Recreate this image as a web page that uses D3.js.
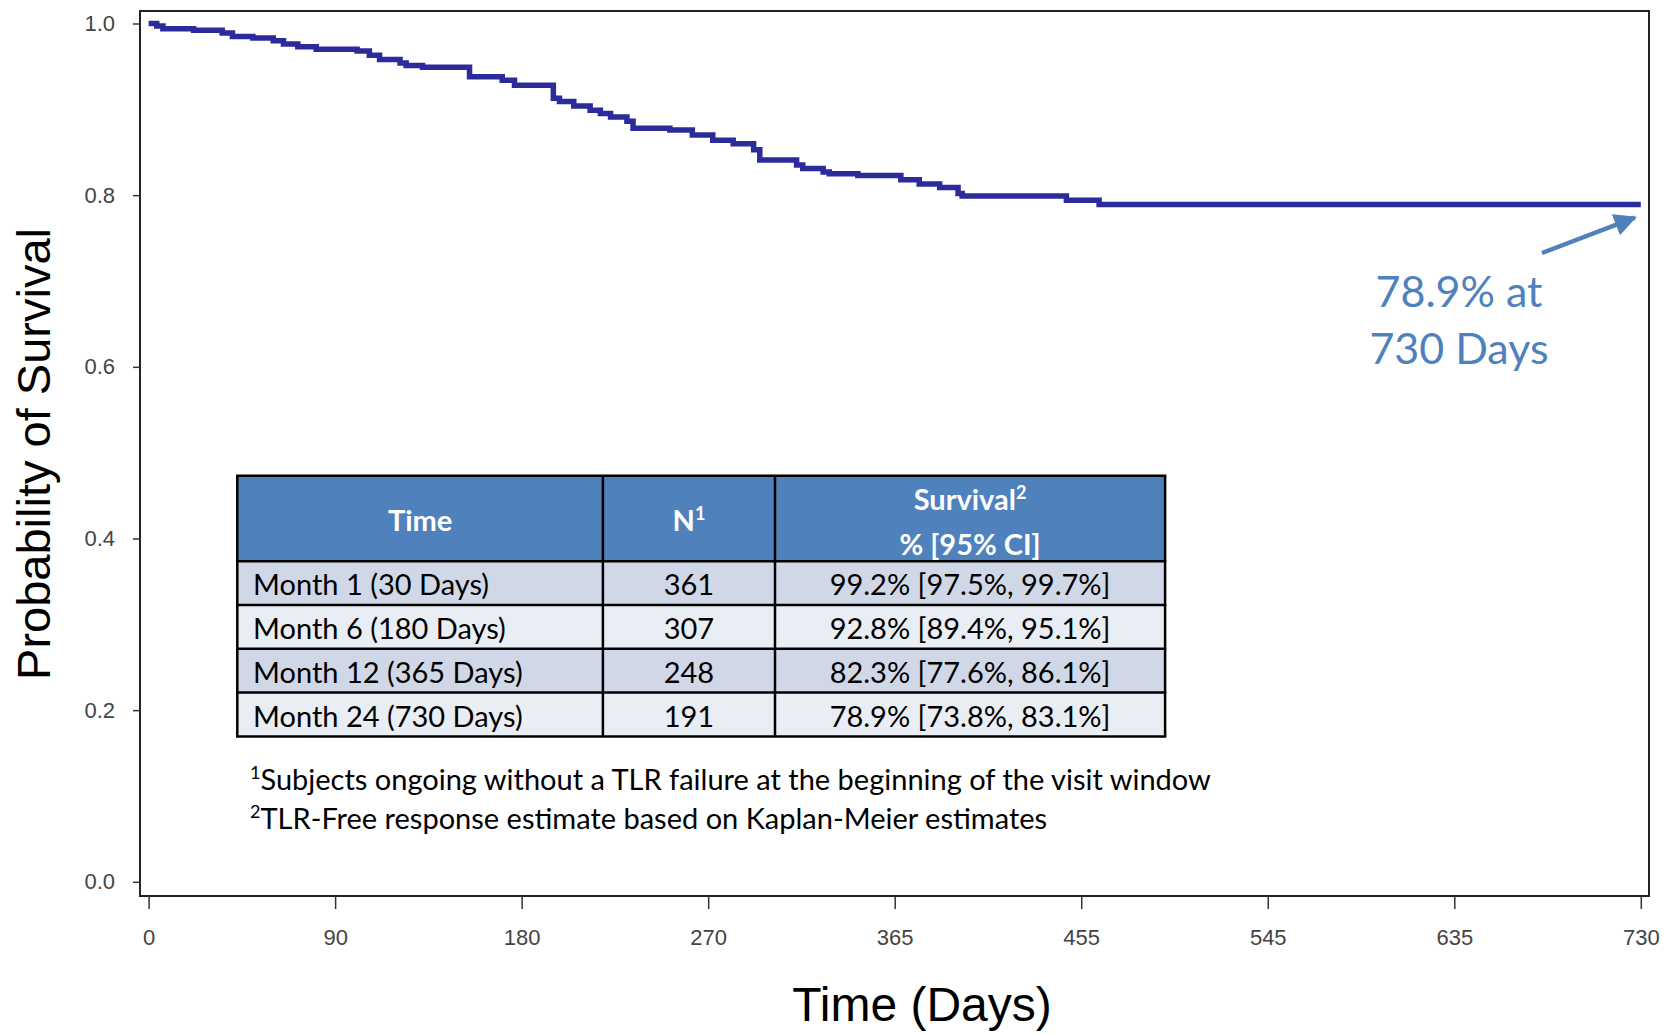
<!DOCTYPE html>
<html>
<head>
<meta charset="utf-8">
<script src="https://cdn.jsdelivr.net/npm/d3@7"></script>
<style>
  html, body { margin: 0; padding: 0; background: #ffffff; }
  svg { display: block; }
</style>
</head>
<body>
<div id="chart"></div>
<script>
// ---------------- data ----------------
const kmDays = [0, 4, 7, 22, 36, 41, 51, 61, 66, 73, 82, 102, 108, 113, 123, 126, 134, 157, 173, 179, 198, 201, 208, 216, 221, 226, 234, 237, 255, 266, 276, 286, 296, 299, 317, 320, 330, 333, 347, 368, 377, 387, 396, 398, 449, 465, 730];
const kmSurvival = [1.000, 0.997, 0.994, 0.992, 0.989, 0.985, 0.983, 0.980, 0.976, 0.973, 0.970, 0.968, 0.963, 0.958, 0.954, 0.951, 0.949, 0.938, 0.934, 0.928, 0.913, 0.909, 0.904, 0.899, 0.895, 0.891, 0.886, 0.878, 0.876, 0.870, 0.864, 0.860, 0.853, 0.841, 0.835, 0.831, 0.827, 0.825, 0.823, 0.818, 0.813, 0.809, 0.802, 0.799, 0.794, 0.789, 0.789];

const xTickValues = [0, 91.25, 182.5, 273.75, 365, 456.25, 547.5, 638.75, 730];
const xTickLabels = ["0", "90", "180", "270", "365", "455", "545", "635", "730"];
const yTickValues = [0, 0.2, 0.4, 0.6, 0.8, 1.0];

const tableHeader = ["Time", "N", "Survival"];
const tableTimes = ["Month 1 (30 Days)", "Month 6 (180 Days)", "Month 12 (365 Days)", "Month 24 (730 Days)"];
const tableN = ["361", "307", "248", "191"];
const tableSurvival = ["99.2% [97.5%, 99.7%]", "92.8% [89.4%, 95.1%]", "82.3% [77.6%, 86.1%]", "78.9% [73.8%, 83.1%]"];

const footnotes = [
  ["1", "Subjects ongoing without a TLR failure at the beginning of the visit window"],
  ["2", "TLR-Free response estimate based on Kaplan-Meier estimates"]
];
const annotationLines = ["78.9% at", "730 Days"];
const annotationDay = 730;
const annotationValue = 0.789;

// ---------------- layout ----------------
const W = 1676, H = 1034;
const frame = { left: 140, right: 1649, top: 11, bottom: 896 };
const curveColor = "#2c2b9c";
const accent = "#4f81bd";
const tableFont = "Lato, 'Open Sans', sans-serif";
const axisFont = "'Liberation Sans', Arial, sans-serif";
const tfs = 29;

const svg = d3.select("#chart").append("svg")
  .attr("width", W).attr("height", H);

const x = d3.scaleLinear().domain([0, 730]).range([148.6, 1640.8]);
const y = d3.scaleLinear().domain([0, 1]).range([881.8, 23.5]);

// frame
svg.append("rect")
  .attr("x", frame.left).attr("y", frame.top)
  .attr("width", frame.right - frame.left).attr("height", frame.bottom - frame.top)
  .attr("fill", "none").attr("stroke", "#222").attr("stroke-width", 2);

// y axis
const yAxis = svg.append("g")
  .attr("transform", `translate(${frame.left},0)`)
  .call(d3.axisLeft(y).tickValues(yTickValues).tickFormat(d3.format(".1f")).tickSize(7).tickPadding(18));
yAxis.select(".domain").remove();
yAxis.selectAll(".tick line").attr("stroke", "#333").attr("stroke-width", 1.5);
yAxis.selectAll(".tick text")
  .attr("font-family", axisFont).attr("font-size", 22).attr("fill", "#444");

// x axis
const xAxis = svg.append("g")
  .attr("transform", `translate(0,${frame.bottom})`)
  .call(d3.axisBottom(x).tickValues(xTickValues).tickFormat((d, i) => xTickLabels[i]).tickSize(13).tickPadding(20));
xAxis.select(".domain").remove();
xAxis.selectAll(".tick line").attr("stroke", "#333").attr("stroke-width", 1.5);
xAxis.selectAll(".tick text")
  .attr("font-family", axisFont).attr("font-size", 22).attr("fill", "#444");

// axis titles
svg.append("text")
  .attr("transform", "translate(50,454) rotate(-90)")
  .attr("text-anchor", "middle")
  .attr("font-family", axisFont).attr("font-size", 47).attr("fill", "#000")
  .text("Probability of Survival");

svg.append("text")
  .attr("x", 922).attr("y", 1021)
  .attr("text-anchor", "middle")
  .attr("font-family", axisFont).attr("font-size", 48).attr("fill", "#000")
  .text("Time (Days)");

// KM curve
const kmData = kmDays.map((d, i) => ({ day: d, s: kmSurvival[i] }));
svg.append("path")
  .datum(kmData)
  .attr("fill", "none")
  .attr("stroke", curveColor)
  .attr("stroke-width", 5.5)
  .attr("stroke-linejoin", "miter")
  .attr("d", d3.line().x(d => x(d.day)).y(d => y(d.s)).curve(d3.curveStepAfter));

// table
const tLeft = 237.3, tRight = 1165.1;
const colEdges = [tLeft, 602.9, 775, tRight];
const headerTop = 475.7, headerBottom = 561.2, rowH = 43.8;
const tg = svg.append("g");

tg.append("rect")
  .attr("x", tLeft).attr("y", headerTop)
  .attr("width", tRight - tLeft).attr("height", headerBottom - headerTop)
  .attr("fill", accent);

tableTimes.forEach((t, i) => {
  tg.append("rect")
    .attr("x", tLeft).attr("y", headerBottom + i * rowH)
    .attr("width", tRight - tLeft).attr("height", rowH)
    .attr("fill", i % 2 === 0 ? "#d0d8e8" : "#e9edf4");
});

const tBottom = headerBottom + tableTimes.length * rowH;
[headerTop, headerBottom].concat(tableTimes.map((t, i) => headerBottom + (i + 1) * rowH)).forEach(yy => {
  tg.append("line").attr("x1", tLeft - 1.2).attr("x2", tRight + 1.2).attr("y1", yy).attr("y2", yy)
    .attr("stroke", "#000").attr("stroke-width", 2.5);
});
colEdges.forEach(xx => {
  tg.append("line").attr("x1", xx).attr("x2", xx).attr("y1", headerTop).attr("y2", tBottom)
    .attr("stroke", "#000").attr("stroke-width", 2.5);
});

const c1 = (colEdges[0] + colEdges[1]) / 2, c2 = (colEdges[1] + colEdges[2]) / 2, c3 = (colEdges[2] + colEdges[3]) / 2;
const headerMid = (headerTop + headerBottom) / 2;
function headText(xx, yy) {
  return tg.append("text").attr("x", xx).attr("y", yy).attr("text-anchor", "middle")
    .attr("font-family", tableFont).attr("font-size", tfs).attr("font-weight", "bold").attr("fill", "#fff");
}
headText(c1, headerMid + 13).text(tableHeader[0]);
const nh = headText(c2, headerMid + 13);
nh.append("tspan").text(tableHeader[1]);
nh.append("tspan").attr("font-size", 18).attr("dy", -11).text("1");
const sh = headText(c3, 510);
sh.append("tspan").text(tableHeader[2]);
sh.append("tspan").attr("font-size", 18).attr("dy", -11).text("2");
headText(c3, 555).text("% [95% CI]");

tableTimes.forEach((t, i) => {
  const yy = headerBottom + i * rowH + rowH / 2 + 12;
  tg.append("text").attr("x", 253).attr("y", yy)
    .attr("font-family", tableFont).attr("font-size", tfs).attr("fill", "#000").text(t);
  tg.append("text").attr("x", c2).attr("y", yy).attr("text-anchor", "middle")
    .attr("font-family", tableFont).attr("font-size", tfs).attr("fill", "#000").text(tableN[i]);
  tg.append("text").attr("x", c3).attr("y", yy).attr("text-anchor", "middle")
    .attr("font-family", tableFont).attr("font-size", tfs).attr("fill", "#000").text(tableSurvival[i]);
});

// footnotes
footnotes.forEach((f, i) => {
  const tx = svg.append("text").attr("x", 250).attr("y", 790 + i * 39)
    .attr("font-family", tableFont).attr("font-size", tfs).attr("fill", "#000");
  tx.append("tspan").attr("font-size", 18).attr("dy", -11).text(f[0]);
  tx.append("tspan").attr("dy", 11).text(f[1]);
});

// annotation
annotationLines.forEach((l, i) => {
  svg.append("text").attr("x", 1459).attr("y", 307 + i * 57)
    .attr("text-anchor", "middle")
    .attr("font-family", tableFont).attr("font-size", 43).attr("fill", accent).text(l);
});

const defs = svg.append("defs");
defs.append("marker").attr("id", "ah")
  .attr("viewBox", "0 0 10 10").attr("refX", 9).attr("refY", 5)
  .attr("markerWidth", 5).attr("markerHeight", 5).attr("orient", "auto")
  .attr("markerUnits", "strokeWidth")
  .append("path").attr("d", "M0,0 L10,5 L0,10 Z").attr("fill", accent);

svg.append("line")
  .attr("x1", 1542).attr("y1", 253)
  .attr("x2", x(annotationDay) - 6).attr("y2", y(annotationValue) + 13)
  .attr("stroke", accent).attr("stroke-width", 4.5)
  .attr("marker-end", "url(#ah)");
</script>
</body>
</html>
